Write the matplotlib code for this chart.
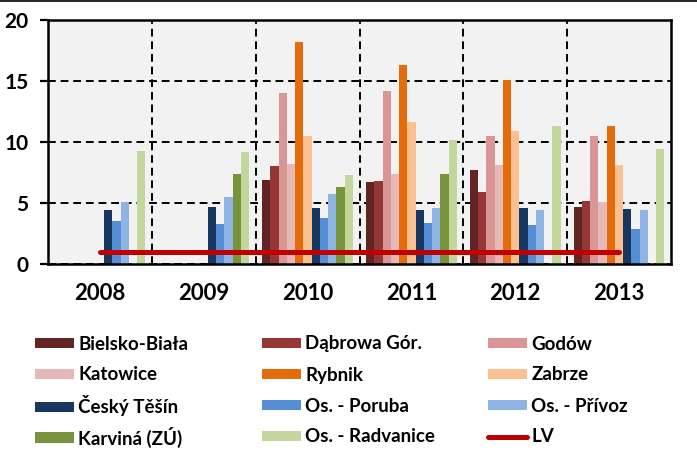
import numpy as np
import matplotlib
matplotlib.use("Agg")
import matplotlib.pyplot as plt
from matplotlib.lines import Line2D
from matplotlib.patches import Patch

plt.rcParams['font.family'] = ['Lato', 'DejaVu Sans']
plt.rcParams['font.weight'] = 'bold'

# --------------------------------------------------------------
# Data
# --------------------------------------------------------------
years = ["2008", "2009", "2010", "2011", "2012", "2013"]

stations = ["Bielsko-Biała", "Dąbrowa Gór.", "Godów", "Katowice", "Rybnik", "Zabrze",
            "Český Těšín", "Os. - Poruba", "Os. - Přívoz", "Karviná (ZÚ)", "Os. - Radvanice"]

bielsko = [None, None, 6.9, 6.7, 7.7, 4.7]
dabrowa = [None, None, 8.0, 6.8, 5.9, 5.2]
godow = [None, None, 14.0, 14.2, 10.5, 10.5]
katowice = [None, None, 8.2, 7.4, 8.1, 5.1]
rybnik = [None, None, 18.2, 16.3, 15.1, 11.3]
zabrze = [None, None, 10.5, 11.6, 10.9, 8.1]
tesin = [4.4, 4.7, 4.6, 4.4, 4.6, 4.5]
poruba = [3.5, 3.3, 3.8, 3.4, 3.2, 2.9]
privoz = [5.1, 5.5, 5.7, 4.6, 4.4, 4.4]
karvina = [None, 7.4, 6.3, 7.4, None, None]
radvanice = [9.3, 9.2, 7.3, 10.2, 11.3, 9.4]

lv = [1, 1, 1, 1, 1, 1]

series = [bielsko, dabrowa, godow, katowice, rybnik, zabrze,
          tesin, poruba, privoz, karvina, radvanice]
colors = ["#632523", "#953735", "#D99694", "#E6B9B8", "#E46C0A", "#FAC090",
          "#17375E", "#558ED5", "#8EB4E3", "#77933C", "#C3D69B"]
lv_color = "#C00000"

# --------------------------------------------------------------
# Plot
# --------------------------------------------------------------
fig = plt.figure(figsize=(6.97, 4.62), dpi=100)
ax = fig.add_axes([48 / 697, 1 - 264 / 462, (671 - 48) / 697, (264 - 20) / 462])
ax.set_facecolor("#F2F2F2")

x = np.arange(len(years))
n = len(series)
width = 0.0795
for i, (vals, c) in enumerate(zip(series, colors)):
    vals = np.array([np.nan if v is None else v for v in vals], dtype=float)
    mask = ~np.isnan(vals)
    offset = (i - (n - 1) / 2) * width
    ax.bar(x[mask] + offset, vals[mask], width=width, color=c, zorder=3)

ax.plot(x, lv, color=lv_color, lw=3.6, solid_capstyle='round', zorder=4)

ax.set_xlim(-0.5, len(years) - 0.5)
ax.set_ylim(0, 20)
ax.set_yticks([0, 5, 10, 15, 20])
ax.set_xticks(x)
ax.set_xticklabels(years)
ax.set_xticks(np.arange(0.5, len(years) - 1, 1), minor=True)

ax.grid(axis='y', which='major', color='black', linestyle=(0, (4, 2.5)), lw=1.4, zorder=1)
ax.grid(axis='x', which='minor', color='black', linestyle=(0, (4, 2.5)), lw=1.4, zorder=1)
ax.grid(axis='x', which='major', visible=False)

ax.tick_params(axis='y', direction='out', length=6, width=1.6, labelsize=15, pad=8)
ax.tick_params(axis='x', which='both', length=0, labelsize=16, pad=14)
for s in ax.spines.values():
    s.set_linewidth(1.8)
    s.set_color('black')
    s.set_zorder(5)

# legend: 4 rows x 3 columns, one entry per slot so rows stay evenly spaced
handles = [Patch(facecolor=c) for c in colors]
handles.append(Line2D([0], [0], color=lv_color, lw=3.6, solid_capstyle='round'))
labels = stations + ["LV"]
col_x = [35, 262, 488]
row_y = [344, 375, 406, 437]
for k, (h, lab) in enumerate(zip(handles, labels)):
    r, c = divmod(k, 3)
    fig.legend([h], [lab], loc='center left',
               bbox_to_anchor=(col_x[c] / 697, 1 - row_y[r] / 462),
               frameon=False, fontsize=13.5, handlelength=2.1, handleheight=0.5,
               handletextpad=0.2, borderpad=0, borderaxespad=0)

fig.add_artist(Line2D([0, 1], [1 - 0.8 / 462, 1 - 0.8 / 462], transform=fig.transFigure,
                      color='black', lw=1.2))

plt.savefig("out.png", dpi=100)
